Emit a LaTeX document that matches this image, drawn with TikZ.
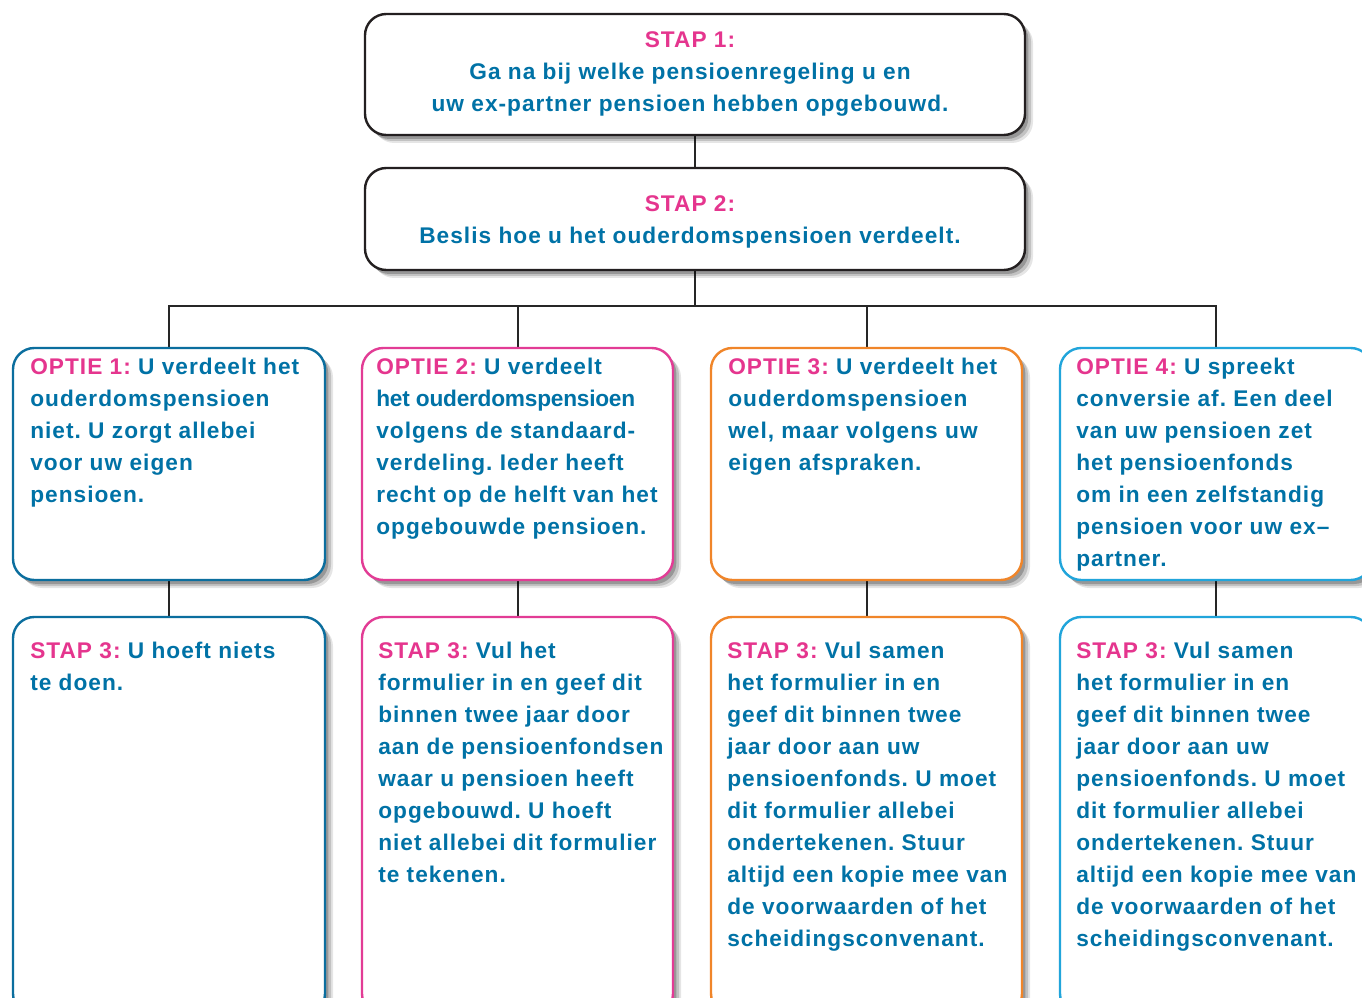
\documentclass[tikz,border=0pt]{standalone}
\usepackage{fontspec}
\setmainfont{Liberation Sans}[LetterSpace=4.5]
\usetikzlibrary{shadows,fit,backgrounds,calc}
\definecolor{tblue}{HTML}{0072A6}
\definecolor{tpink}{HTML}{E5358E}
\definecolor{cone}{HTML}{0B6E9E}
\definecolor{ctwo}{HTML}{E23C95}
\definecolor{cthree}{HTML}{F08529}
\definecolor{cfour}{HTML}{21A5DB}
\definecolor{cblack}{HTML}{231F20}
\newcommand\pk[1]{\textcolor{tpink}{#1}}
\frenchspacing
\begin{document}
\begin{tikzpicture}[x=0.75pt,y=-0.75pt,
  box/.style={draw=#1, line width=1.8pt, rounded corners=16pt, fill=white, inner sep=0pt,
    drop shadow={shadow xshift=6pt, shadow yshift=-6pt, opacity=0.10, fill=black},
    drop shadow={shadow xshift=4.5pt, shadow yshift=-4.5pt, opacity=0.15, fill=black},
    drop shadow={shadow xshift=2.5pt, shadow yshift=-3pt, opacity=0.22, fill=black}},
  txt/.style={align=left, inner sep=0pt, text=tblue, font=\bfseries\fontsize{17}{24}\selectfont\frenchspacing},
  ctxt/.style={align=center, inner sep=0pt, text=tblue, font=\bfseries\fontsize{17}{24}\selectfont\frenchspacing},
  conn/.style={draw=black!85, line width=1.5pt}]
\clip (0,0) rectangle (1362,998);
\useasboundingbox (0,0) rectangle (1362,998);

% boxes
\node[box=cblack, fit={(365,14) (1025,135)}] (s1) {};
\node[box=cblack, fit={(365,168) (1025,270)}] (s2) {};
\node[box=cone,   fit={(13,348) (325,580)}] (o1) {};
\node[box=ctwo,   fit={(362,348) (673,580)}] (o2) {};
\node[box=cthree, fit={(711,348) (1022,580)}] (o3) {};
\node[box=cfour,  fit={(1060,348) (1372,580)}] (o4) {};
\node[box=cone,   fit={(13,617) (325,1015)}] (t1) {};
\node[box=ctwo,   fit={(362,617) (673,1015)}] (t2) {};
\node[box=cthree, fit={(711,617) (1022,1015)}] (t3) {};
\node[box=cfour,  fit={(1060,617) (1372,1015)}] (t4) {};

% connectors
\coordinate (bar) at (0,306);
\begin{scope}[on background layer]
\fill[white] (0,0) rectangle (1362,998);
\draw[conn] (s1.south) -- (s2.north);
\draw[conn] (s2.south) -- (s2.south |- bar);
\draw[conn] (o1.north) -- (o1.north |- bar) -- (o4.north |- bar) -- (o4.north);
\draw[conn] (o2.north) -- (o2.north |- bar);
\draw[conn] (o3.north) -- (o3.north |- bar);
\draw[conn] (o1.south) -- (t1.north);
\draw[conn] (o2.south) -- (t2.north);
\draw[conn] (o3.south) -- (t3.north);
\draw[conn] (o4.south) -- (t4.north);
\end{scope}

% texts
\node[ctxt, anchor=north] (s1t) at (690,31) {\pk{STAP 1:}\\Ga na bij welke pensioenregeling u en\\uw ex-partner pensioen hebben opgebouwd.};
\node[ctxt, anchor=north] (s2t) at (690,195) {\pk{STAP 2:}\\Beslis hoe u het ouderdomspensioen verdeelt.};

\node[txt, anchor=north west] (o1t) at (30,358) {\pk{OPTIE 1:} U verdeelt het\\ouderdomspensioen\\niet. U zorgt allebei\\voor uw eigen\\pensioen.};
\node[txt, anchor=north west] (o2t) at (376,358) {\pk{OPTIE 2:} U verdeelt\\{\addfontfeature{LetterSpace=-1}het ouderdomspensioen}\\volgens de standaard-\\verdeling. Ieder heeft\\recht op de helft van het\\opgebouwde pensioen.};
\node[txt, anchor=north west] (o3t) at (728,358) {\pk{OPTIE 3:} U verdeelt het\\ouderdomspensioen\\wel, maar volgens uw\\eigen afspraken.};
\node[txt, anchor=north west] (o4t) at (1076,358) {\pk{OPTIE 4:} U spreekt\\conversie af. Een deel\\van uw pensioen zet\\het pensioenfonds\\om in een zelfstandig\\pensioen voor uw ex–\\partner.};

\node[txt, anchor=north west] (t1t) at (30,642) {\pk{STAP 3:} U hoeft niets\\te doen.};
\node[txt, anchor=north west] (t2t) at (378,642) {\pk{STAP 3:} Vul het\\formulier in en geef dit\\binnen twee jaar door\\aan de pensioenfondsen\\waar u pensioen heeft\\opgebouwd. U hoeft\\niet allebei dit formulier\\te tekenen.};
\node[txt, anchor=north west] (t3t) at (727,642) {\pk{STAP 3:} Vul samen\\het formulier in en\\geef dit binnen twee\\jaar door aan uw\\pensioenfonds. U moet\\dit formulier allebei\\ondertekenen. Stuur\\altijd een kopie mee van\\de voorwaarden of het\\scheidingsconvenant.};
\node[txt, anchor=north west] (t4t) at (1076,642) {\pk{STAP 3:} Vul samen\\het formulier in en\\geef dit binnen twee\\jaar door aan uw\\pensioenfonds. U moet\\dit formulier allebei\\ondertekenen. Stuur\\altijd een kopie mee van\\de voorwaarden of het\\scheidingsconvenant.};
\end{tikzpicture}
\end{document}
